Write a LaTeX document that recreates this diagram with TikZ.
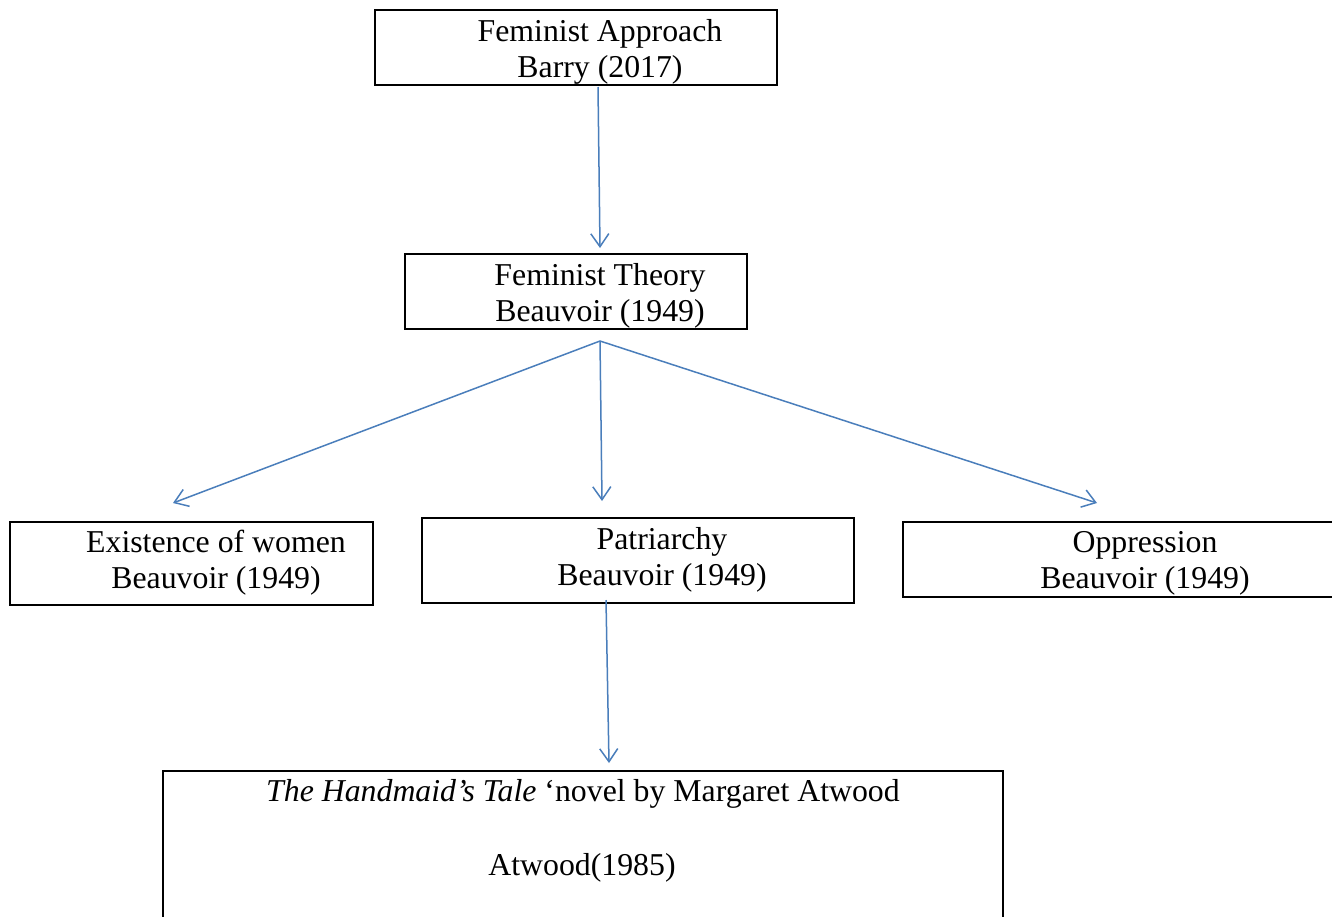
\documentclass[tikz,border=0pt]{standalone}
\usepackage{fontspec}
\setmainfont{Liberation Serif}
\usetikzlibrary{arrows.meta}
\definecolor{linkblue}{RGB}{74,126,187}

\begin{document}
\begin{tikzpicture}[x=1pt,y=-1pt,
    box/.style={draw=black,line width=2pt,inner sep=0pt},
    txt/.style={font=\fontsize{31.8}{36}\selectfont,align=center,inner sep=0pt},
    link/.style={draw=linkblue,line width=1.5pt,
        -{Straight Barb[length=13pt,width=18pt,line width=1.5pt]}}]
    \useasboundingbox (0,0) rectangle (1332,916);

    % boxes
    \node[box,minimum width=402pt,minimum height=75pt]  (approach)  at (576,47.5)   {};
    \node[box,minimum width=342pt,minimum height=75pt]  (theory)    at (576,291.5)  {};
    \node[box,minimum width=363pt,minimum height=83pt]  (existence) at (191.5,563.5) {};
    \node[box,minimum width=432pt,minimum height=85pt]  (patriarchy) at (638,560.5) {};
    \node[box,minimum width=442pt,minimum height=75pt]  (oppression) at (1124,559.5) {};
    \node[box,minimum width=840pt,minimum height=189pt] (novel)     at (583,865.5)  {};

    % texts
    \node[txt] (approachtxt)   at (600,52)  {Feminist Approach\\Barry (2017)};
    \node[txt] (theorytxt)     at (600,296) {Feminist Theory\\Beauvoir (1949)};
    \node[txt] (existencetxt)  at (216,563) {Existence of women\\Beauvoir (1949)};
    \node[txt] (patriarchytxt) at (662,560) {Patriarchy\\Beauvoir (1949)};
    \node[txt] (oppressiontxt) at (1145,563) {Oppression\\Beauvoir (1949)};
    \node[txt] (noveltxt)      at (583,794) {\textit{The Handmaid’s Tale} ‘novel by Margaret Atwood};
    \node[txt] (yeartxt)       at (582,868) {Atwood(1985)};

    % arrow ends
    \coordinate (top)   at (598,87);
    \coordinate (intop) at (600,248);
    \coordinate (fork)  at (600,341);
    \coordinate (inex)  at (173,503);
    \coordinate (inpa)  at (602,501);
    \coordinate (inop)  at (1097,503);
    \coordinate (low)   at (606,600);
    \coordinate (innov) at (609,763);

    \path (top) edge[link] (intop)
        (fork) edge[link] (inex)
        (fork) edge[link] (inpa)
        (fork) edge[link] (inop)
        (low) edge[link] (innov);
\end{tikzpicture}
\end{document}
